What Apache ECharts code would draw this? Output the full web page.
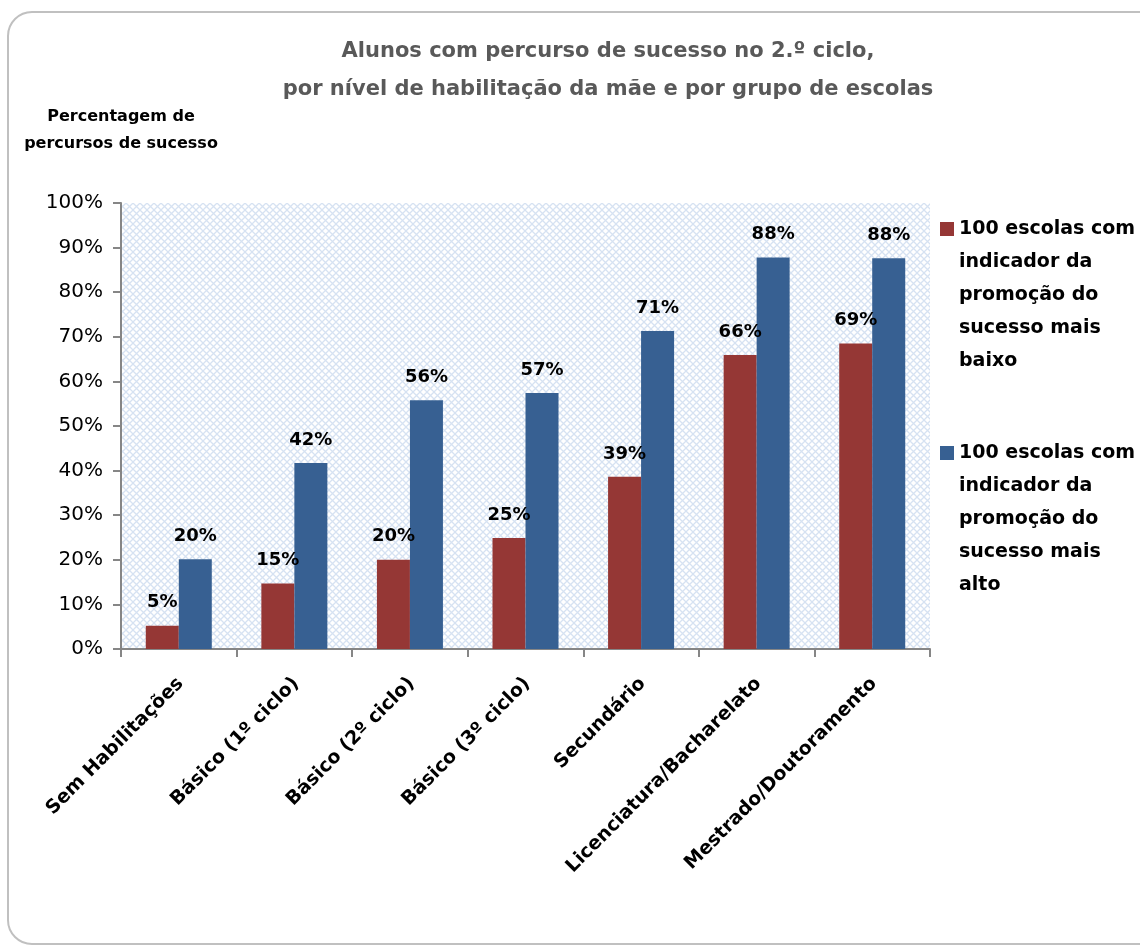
<!DOCTYPE html>
<html>
<head>
<meta charset="utf-8">
<script src="https://cdn.jsdelivr.net/npm/echarts@6/dist/echarts.min.js"></script>
<style>
html,body{margin:0;padding:0;background:#fff;}
#chart{width:1140px;height:947px;}
</style>
</head>
<body>
<div id="chart"></div>
<script>
const categories = ['Sem Habilitações','Básico (1º ciclo)','Básico (2º ciclo)','Básico (3º ciclo)','Secundário','Licenciatura/Bacharelato','Mestrado/Doutoramento'];
const seriesNames = ['100 escolas com\nindicador da\npromoção do\nsucesso mais\nbaixo','100 escolas com\nindicador da\npromoção do\nsucesso mais\nalto'];
const lowSchools = [5.2, 14.7, 20.0, 24.9, 38.6, 65.9, 68.5];
const highSchools = [20.1, 41.7, 55.8, 57.4, 71.3, 87.8, 87.6];
const yTicks = {min: 0, max: 100, interval: 10};
const titleText = 'Alunos com percurso de sucesso no 2.º ciclo,\npor nível de habilitação da mãe e por grupo de escolas';
const yAxisName = 'Percentagem de\npercursos de sucesso';

const FONT = '"DejaVu Sans", sans-serif';

// crosshatch pattern for plot background
const pat = document.createElement('canvas');
pat.width = 7; pat.height = 7;
const pc = pat.getContext('2d');
pc.fillStyle = '#ffffff'; pc.fillRect(0,0,7,7);
pc.strokeStyle = '#d6e2f2'; pc.lineWidth = 1.3;
pc.beginPath();
pc.moveTo(0,0); pc.lineTo(7,7);
pc.moveTo(7,0); pc.lineTo(0,7);
pc.stroke();

const chart = echarts.init(document.getElementById('chart'));
const labelCfg = {
  show: true, position: 'top', distance: 14,
  fontFamily: FONT, fontWeight: 'bold', fontSize: 18, color: '#000',
  formatter: p => Math.round(p.value) + '%'
};
chart.setOption({
  backgroundColor: '#fff',
  animation: false,
  title: {
    text: titleText, left: 603, top: 28, textAlign: 'center',
    textStyle: {fontFamily: FONT, fontWeight: 'bold', fontSize: 21, color: '#595959', lineHeight: 38}
  },
  legend: {
    orient: 'vertical', left: 940, top: 213, padding: 0, itemGap: 59,
    itemWidth: 14, itemHeight: 165,
    icon: 'path://M0,0h0M0,9h14v14h-14zM0,165h0',
    textStyle: {fontFamily: FONT, fontWeight: 'bold', fontSize: 19, color: '#000', lineHeight: 33},
    data: seriesNames
  },
  graphic: [{
    type: 'rect', z: -10, silent: true,
    shape: {x: 8, y: 12, width: 1170, height: 932, r: 24},
    style: {fill: 'none', stroke: '#c0c0c0', lineWidth: 2}
  }],
  grid: {
    left: 121, right: 210, top: 203, bottom: 298,
    show: true, borderWidth: 0,
    backgroundColor: {image: pat, repeat: 'repeat'}
  },
  xAxis: {
    type: 'category', data: categories,
    axisLine: {lineStyle: {color: '#868686', width: 2}},
    axisTick: {show: true, length: 8, lineStyle: {color: '#868686', width: 2}},
    axisLabel: {
      rotate: 45, margin: 20, interval: 0, align: 'right', verticalAlign: 'top',
      padding: [0, 7, 0, 0],
      fontFamily: FONT, fontWeight: 'bold', fontSize: 19, color: '#000'
    }
  },
  yAxis: {
    type: 'value', min: yTicks.min, max: yTicks.max, interval: yTicks.interval,
    name: yAxisName, nameLocation: 'end', nameGap: 46,
    nameTextStyle: {fontFamily: FONT, fontWeight: 'bold', fontSize: 16, color: '#000', lineHeight: 27, align: 'center'},
    axisLine: {show: true, lineStyle: {color: '#868686', width: 2}},
    axisTick: {show: true, length: 8, lineStyle: {color: '#868686', width: 2}},
    splitLine: {show: false},
    axisLabel: {
      margin: 18, formatter: '{value}%',
      fontFamily: FONT, fontSize: 20, color: '#000'
    }
  },
  series: [
    {name: seriesNames[0], type: 'bar', data: lowSchools, barWidth: 33, barGap: '0%',
     itemStyle: {color: '#953735'}, label: labelCfg},
    {name: seriesNames[1], type: 'bar', data: highSchools, barWidth: 33, barGap: '0%',
     itemStyle: {color: '#376092'}, label: labelCfg}
  ]
});
</script>
</body>
</html>
